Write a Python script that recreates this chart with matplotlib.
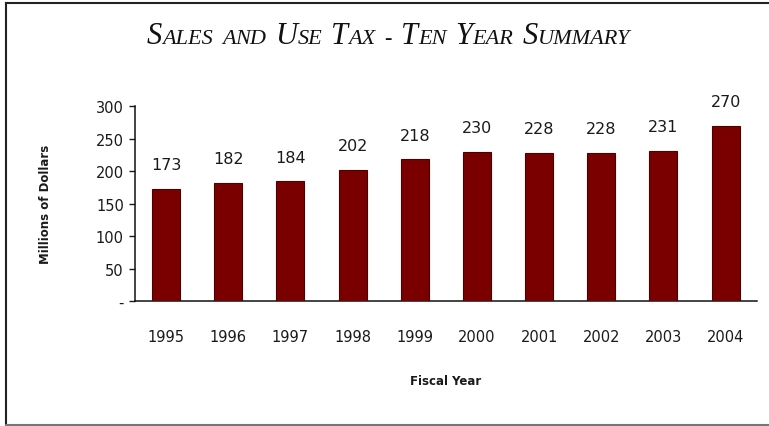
import matplotlib.pyplot as plt
from matplotlib.lines import Line2D
from matplotlib.offsetbox import AnchoredOffsetbox, HPacker, TextArea

years = ["1995", "1996", "1997", "1998", "1999", "2000", "2001", "2002", "2003", "2004"]
sales_tax = [173, 182, 184, 202, 218, 230, 228, 228, 231, 270]
ytick_vals = [0, 50, 100, 150, 200, 250, 300]
ytick_labels = ["-", "50", "100", "150", "200", "250", "300"]

BAR = "#7a0000"
BAR_EDGE = "#4d0000"
TEXT = "#1a1a1a"

plt.rcParams["font.family"] = ["DejaVu Sans"]

fig = plt.figure(figsize=(7.69, 4.27), dpi=100)
ax = fig.add_axes([0.1756, 0.2927, 0.8084, 0.4567])

x = range(len(years))
bars = ax.bar(x, sales_tax, width=0.45, color=BAR, edgecolor=BAR_EDGE, linewidth=0.8, zorder=3)

for xi, val in zip(x, sales_tax):
    ax.annotate(f"{val}", xy=(xi, val), xytext=(0, 12), textcoords="offset points",
                ha="center", va="bottom", fontsize=11.5, color=TEXT)

ax.set_xlim(-0.5, len(years) - 0.5)
ax.set_ylim(0, 300)
ax.set_xticks(list(x))
ax.set_xticklabels(years)
ax.set_yticks(ytick_vals)
ax.set_yticklabels(ytick_labels)
ax.tick_params(axis="x", length=0, pad=20, labelsize=10.5, colors=TEXT)
ax.tick_params(axis="y", length=4, width=1, pad=4, labelsize=10.5, colors=TEXT, direction="out")
for s in ("top", "right"):
    ax.spines[s].set_visible(False)
for s in ("left", "bottom"):
    ax.spines[s].set_linewidth(1.1)
    ax.spines[s].set_color("#111111")

ax.set_ylabel("Millions of Dollars", fontsize=8.5, fontweight="bold", color=TEXT)
ax.yaxis.set_label_coords(-0.133, 0.5)
ax.set_xlabel("Fiscal Year", fontsize=8.5, fontweight="bold", color=TEXT, labelpad=22)

# Small-caps italic title, built word by word
title = "Sales and Use Tax - Ten Year Summary"
parts = []
for w, word in enumerate(title.split(" ")):
    if w > 0:
        parts.append(TextArea("  ", textprops=dict(fontsize=13, family="Liberation Serif")))
    first, rest = word[0], word[1:]
    big = first.isupper()
    parts.append(TextArea(first.upper(), textprops=dict(
        fontsize=22 if big else 16, style="italic", family="Liberation Serif", color="#111111")))
    if rest:
        parts.append(TextArea(rest.upper(), textprops=dict(
            fontsize=16, style="italic", family="Liberation Serif", color="#111111")))
box = HPacker(children=parts, align="baseline", pad=0, sep=0)
anch = AnchoredOffsetbox(loc="center", child=box, frameon=False,
                         bbox_to_anchor=(0.505, 0.915), bbox_transform=fig.transFigure, pad=0)
fig.add_artist(anch)

# Outer frame
fig.add_artist(Line2D([0.0072, 0.0072], [0.003, 0.99], transform=fig.transFigure, color="#222222", lw=1.5))
fig.add_artist(Line2D([0.0072, 1.0], [0.99, 0.99], transform=fig.transFigure, color="#222222", lw=1.5))
fig.add_artist(Line2D([0.0072, 1.0], [0.003, 0.003], transform=fig.transFigure, color="#777777", lw=1.5))

fig.savefig("out.png", dpi=100, facecolor="white")
